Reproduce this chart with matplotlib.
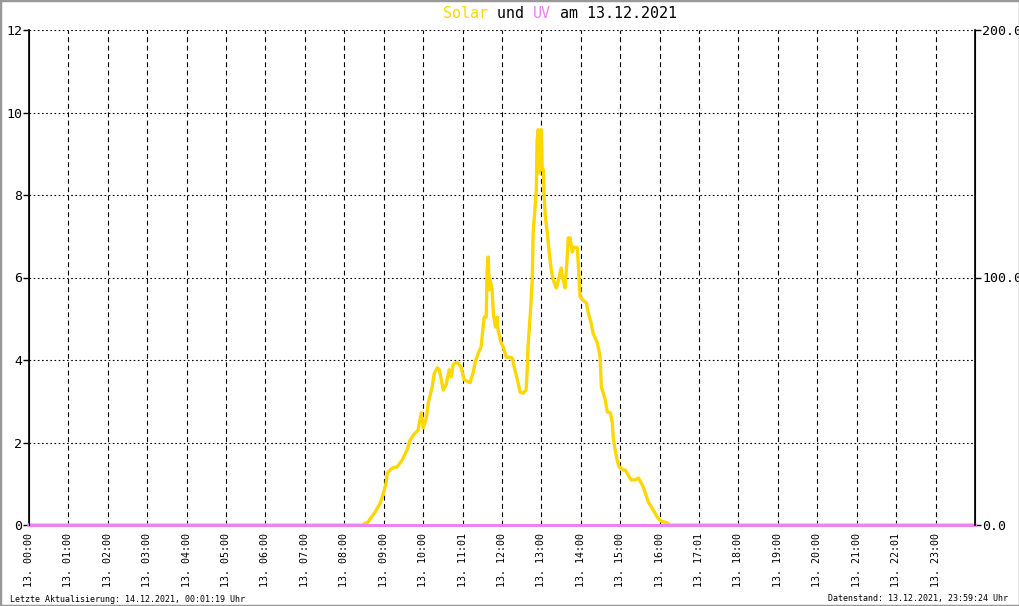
import matplotlib
matplotlib.use('Agg')
import matplotlib.pyplot as plt
from matplotlib.patches import Rectangle

plt.rcParams['font.family'] = 'DejaVu Sans Mono'
plt.rcParams['lines.scale_dashes'] = False

# Solar (W/m², right axis) - time in hours of 13.12.2021
solar_hours = [0.0, 8.45, 8.60, 8.78, 8.91, 8.98, 9.06, 9.09, 9.21, 9.34, 9.47, 9.59, 9.67, 9.75,
               9.87, 9.95, 10.00, 10.08, 10.13, 10.23, 10.28, 10.36, 10.41, 10.46, 10.51, 10.58,
               10.66, 10.71, 10.76, 10.81, 10.89, 10.96, 11.04, 11.19, 11.27, 11.32, 11.40, 11.47,
               11.52, 11.55, 11.60, 11.62, 11.65, 11.68, 11.70, 11.75, 11.78, 11.83, 11.88, 11.90,
               11.98, 12.03, 12.11, 12.18, 12.26, 12.31, 12.39, 12.46, 12.54, 12.61, 12.64, 12.66,
               12.72, 12.77, 12.79, 12.84, 12.87, 12.89, 12.92, 12.94, 13.00, 13.02, 13.05, 13.07,
               13.10, 13.15, 13.20, 13.25, 13.30, 13.38, 13.43, 13.50, 13.55, 13.60, 13.65, 13.68,
               13.73, 13.78, 13.83, 13.91, 13.93, 13.98, 14.06, 14.14, 14.19, 14.26, 14.31, 14.42,
               14.47, 14.49, 14.52, 14.57, 14.62, 14.67, 14.75, 14.80, 14.82, 14.87, 14.92, 14.97,
               15.08, 15.13, 15.20, 15.28, 15.38, 15.46, 15.56, 15.63, 15.71, 15.84, 15.94, 16.02,
               16.19, 16.27, 24.0]
solar_values = [0, 0, 1.2, 5.2, 8.8, 12.2, 17.0, 21.0, 23.0, 23.5, 26.3, 30.3, 34.3, 36.3,
                38.3, 45.3, 39.2, 43.2, 49.3, 55.8, 61.3, 63.5, 62.7, 58.7, 54.5, 56.5,
                62.7, 59.8, 64.7, 65.5, 65.5, 63.8, 58.7, 57.5, 61.8, 65.8, 69.5, 72.0,
                80.0, 84.0, 84.0, 101.8, 108.3, 95.0, 99.0, 95.0, 85.7, 80.0, 84.0, 78.8,
                73.5, 72.0, 67.8, 67.8, 67.5, 63.8, 58.7, 53.7, 53.3, 54.5, 62.7, 72.0,
                85.7, 100.2, 118.0, 128.5, 135.3, 155.5, 159.7, 142.2, 159.7, 143.5, 143.5, 132.5,
                124.5, 118.0, 109.8, 103.0, 99.0, 95.8, 99.0, 103.8, 99.0, 95.8, 107.0, 116.0,
                116.0, 110.3, 112.3, 112.0, 107.0, 92.2, 90.8, 89.7, 85.7, 81.7, 77.5, 73.5,
                69.5, 67.8, 55.8, 53.3, 50.5, 45.7, 45.3, 41.2, 35.7, 30.3, 26.3, 23.5,
                22.2, 22.2, 20.2, 18.2, 18.2, 19.0, 16.2, 13.3, 9.3, 6.0, 3.2, 1.7,
                0.8, 0, 0]

# UV index (left axis)
uv_hours = [0.0, 24.0]
uv_values = [0, 0]

tick_labels = ['13. 00:00', '13. 01:00', '13. 02:00', '13. 03:00', '13. 04:00', '13. 05:00',
               '13. 06:00', '13. 07:00', '13. 08:00', '13. 09:00', '13. 10:00', '13. 11:01',
               '13. 12:00', '13. 13:00', '13. 14:00', '13. 15:00', '13. 16:00', '13. 17:01',
               '13. 18:00', '13. 19:00', '13. 20:00', '13. 21:00', '13. 22:01', '13. 23:00']

fig = plt.figure(figsize=(10.2, 6.06), dpi=100)
fig.patch.set_facecolor('white')
ax = fig.add_axes([29 / 1020, 1 - 525 / 606, 946 / 1020, 495 / 606])
ax2 = ax.twinx()

ax.set_xlim(0, 24)
ax.set_ylim(0, 12)
ax2.set_ylim(0, 200)

# grid
for h in range(1, 24):
    ax.axvline(h, color='black', lw=0.8, linestyle=(0, (3.5, 2.5)), zorder=1)
for v in range(2, 13, 2):
    ax.axhline(v, color='black', lw=0.8, linestyle=(0, (1.2, 1.8)), zorder=1)

ax2.plot(solar_hours, solar_values, color='#ffd700', lw=2.4, clip_on=False)
ax2.plot(uv_hours, uv_values, color='#ee82ee', lw=2.2, clip_on=False, transform=ax.transData)

for a in (ax, ax2):
    a.spines['top'].set_visible(False)
    a.spines['bottom'].set_visible(False)
ax.spines['left'].set_linewidth(1.2)
ax2.spines['right'].set_linewidth(1.2)

ax.set_yticks(range(0, 13, 2))
ax.set_yticklabels([str(v) for v in range(0, 13, 2)])
ax.tick_params(axis='y', length=4, width=1, pad=1, labelsize=9.5)
ax2.set_yticks([0, 100, 200])
ax2.set_yticklabels(['0.0', '100.0', '200.0'])
ax2.tick_params(axis='y', length=4, width=1, pad=1, labelsize=9.5)

ax.set_xticks(range(24))
ax.set_xticklabels(tick_labels, rotation=90, fontsize=7.2, va='top', ha='center')
ax.tick_params(axis='x', length=0, pad=6)

# title with coloured words
title_parts = [('Solar', '#ffd700'), (' und ', 'black'), ('UV', '#ee82ee'), (' am 13.12.2021', 'black')]
x0 = 443
for text, col in title_parts:
    fig.text(x0 / 1020, 1 - 14 / 606, text, color=col, fontsize=10.8, va='center', ha='left')
    x0 += 9 * len(text)

fig.text(10 / 1020, 1 - 599 / 606, 'Letzte Aktualisierung: 14.12.2021, 00:01:19 Uhr', fontsize=6, va='center', ha='left')
fig.text(1008 / 1020, 1 - 599 / 606, 'Datenstand: 13.12.2021, 23:59:24 Uhr', fontsize=6, va='center', ha='right')

fig.patches.append(Rectangle((0, 0), 1, 1, transform=fig.transFigure, fill=False,
                             edgecolor='#999999', lw=2.5))

fig.savefig('out.png', dpi=100)
